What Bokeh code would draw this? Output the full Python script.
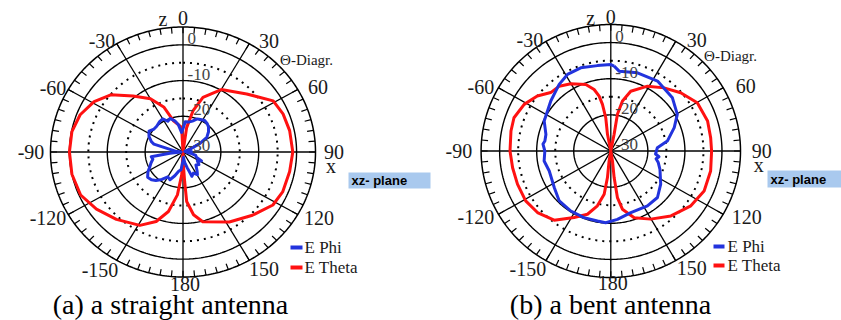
import numpy as np
from bokeh.plotting import figure
from bokeh.models import Range1d
from bokeh.core.properties import value
from bokeh.embed import file_html
from bokeh.resources import INLINE

# ---------------- data ----------------
angle_labels = ["0", "30", "60", "90", "120", "150", "180", "-150", "-120", "-90", "-60", "-30"]
db_labels = ["0", "-10", "-20", "-30"]
db_label_values = [0, -10, -20, -30]
solid_rings_db = [0, -10, -20]
dotted_rings_db = [-5, -15]
db_min, db_max = -30, 5
captions = ["(a) a straight antenna", "(b) a bent antenna"]
series_names = ["E Phi", "E Theta"]

# (a) straight antenna, E Theta (curve order, angle deg clockwise from z, dB)
a_theta_ang = [0, 8, 13, 19, 30, 46, 59, 68, 78, 90, 101, 113, 122, 134, 148, 165, 171, 176, 177, 179, 180,
               -177, -173, -167, -160, -151, -137, -125, -114, -102, -90, -79, -69, -59, -50, -40, -30, -22, -16, -3, 0]
a_theta_db = [-30, -23.1, -18.1, -13.8, -9.8, -6.6, -2.2, -1.5, -1.2, -1.0, -1.3, -1.4, -2.0, -4.5, -6.9, -9.8, -12.2, -16.1, -21.8, -27, -30,
              -23.7, -17.9, -12.9, -9.3, -6.5, -4.2, -2.1, -0.4, 0.0, 0.0, -0.1, -0.9, -2.6, -5.1, -9.5, -12.8, -16.4, -20.9, -23.1, -30]

# (a) straight antenna, E Phi
a_phi_ang = [-180, -174, -168, -162, -156, -150, -144, -138, -133, -127, -121, -116, -110, -104, -99, -96, -90, -84, -78, -74,
             -71, -64, -57, -50, -44, -36, -30, -25, -20, -14, -9, -4, 0, 4, 10, 16, 22, 27, 33, 39, 44, 50, 57, 62, 66,
             72, 80, 87, 93, 100, 106, 112, 117, 123, 130, 137, 145, 149, 155, 161, 166, 171, 176, 180]
a_phi_db = [-27.5, -25, -24.5, -23, -21.5, -22, -20.5, -19.3, -18.6, -18.3, -19.2, -20.2, -21, -21.8, -21.5, -26.5, -29.5, -28, -26.5, -22,
            -21.2, -20, -19.3, -20, -20, -19.5, -19.3, -20.5, -20, -21, -22.3, -24.5, -23.5, -21.5, -21.5, -21, -20, -19.8, -19.5, -19.8, -20.3, -21.2, -22.5, -25, -27.6,
            -29.5, -28.5, -27.8, -29, -28, -26.5, -26.2, -24.5, -25.5, -24.5, -25, -23.5, -22.6, -23.5, -22.8, -25.5, -27, -28.5, -27.5]

# (b) bent antenna, E Theta
b_theta_ang = [0, 11, 10, 12.8, 18, 28.9, 39.4, 49.5, 60.2, 72.4, 82.2, 90, 101.6, 113.7, 125.1, 137.9, 150.3, 161.1, 169, 172.1, 173, 170.6, 180,
               -170.6, -173, -171.5, -166.6, -160.2, -151.7, -141.4, -130.7, -121, -110, -99.9, -90, -78.4, -70.6, -61.1, -52.5, -45.1,
               -37.8, -30.1, -20.1, -14.8, -11.7, -9.9, -8.4, -11, 0]
b_theta_db = [-30, -25.3, -19.7, -15.8, -12.6, -9.5, -7.4, -5.2, -3.1, -2.6, -2.8, -2.8, -2.5, -2.5, -3.6, -5.8, -8.3, -10.5, -13.6, -17, -22.6, -27.2, -30,
              -27.2, -22.6, -17.9, -14.4, -11.4, -9.1, -5.5, -3.9, -3.2, -3.2, -3.1, -2.8, -2.5, -2.3, -3.3, -5.0, -7.1,
              -7.3, -8.5, -10.4, -12.4, -14.5, -16.9, -20.7, -25.3, -30]

# (b) bent antenna, E Phi
b_phi_ang = [2.2, 5.8, 18.4, 33.1, 48.5, 60.6, 69.3, 79.8, 85.9, 92, 94, 97, 100, 104, 110.9, 124.3, 135.6, 146.9, 162.4, 174.6,
             -176, -169.5, -158.6, -147, -134.8, -123.5, -108.4, -98.7, -90, -84, -81.2, -75.3, -65.2, -49.5, -37.1, -28.9,
             -19.4, -8.7, 0, 2.2]
b_phi_db = [-6.5, -7.8, -7.2, -6.9, -7.8, -9.4, -11.7, -14.5, -17.4, -17.8, -17.9, -16.9, -17.6, -16.8, -15.8, -13.7, -12, -11.9, -12.1, -11,
            -10.1, -10.3, -10.2, -10.2, -10.4, -11.7, -12.5, -11.8, -12.2, -11.6, -12, -11.9, -10.2, -8.7, -6.9, -5.8,
            -5.6, -6.1, -6.1, -6.5]

# ---------------- layout / styles ----------------
BLUE = "#2233dd"
RED = "#ff1111"
SERIF = value("Liberation Serif")
SANS = value("Liberation Sans")

panels = [
    dict(cx=182.5, cy=151.5, rh=132.5, rv=125.0,
         theta=(a_theta_ang, a_theta_db), phi=(a_phi_ang, a_phi_db),
         diag=(306, 59), leg=(290, 302, 247, 267, 304), box=(348, 430, 172, 188), cap=(170, 304)),
    dict(cx=610.3, cy=150.5, rh=129.7, rv=126.5,
         theta=(b_theta_ang, b_theta_db), phi=(b_phi_ang, b_phi_db),
         diag=(730, 55), leg=(713, 724, 246, 265, 727), box=(767, 845, 170, 187), cap=(610, 304)),
]

label_off = {"0": (0, -134), "30": (86, -111), "60": (135, -65), "90": (151, 0), "120": (136, 66),
             "150": (81, 117), "180": (2, 132), "-150": (-83, 118), "-120": (-135, 66), "-90": (-152, 0),
             "-60": (-130, -64), "-30": (-81, -111)}

p = figure(width=841, height=320, x_range=Range1d(0, 841), y_range=Range1d(320, 0),
           output_backend="svg", toolbar_location=None, min_border=0,
           x_axis_type=None, y_axis_type=None)
p.outline_line_color = None
p.background_fill_color = "white"
p.border_fill_color = "white"


def rnorm(db):
    return np.clip((np.asarray(db, dtype=float) - db_min) / (db_max - db_min), 0, None)


def to_xy(P, ang, r):
    t = np.radians(np.asarray(ang, dtype=float))
    return P["cx"] + P["rh"] * r * np.sin(t), P["cy"] - P["rv"] * r * np.cos(t)


full = np.linspace(0, 360, 361)
for i, P in enumerate(panels):
    # outer ring
    x, y = to_xy(P, full, 1.0)
    p.line(x, y, line_color="black", line_width=1.5)
    for d in solid_rings_db:
        x, y = to_xy(P, full, rnorm(d))
        p.line(x, y, line_color="black", line_width=1.4)
    for d in dotted_rings_db:
        x, y = to_xy(P, full, rnorm(d))
        p.line(x, y, line_color="black", line_width=2, line_dash="2 5")
    # spokes
    sp = np.arange(0, 180, 30)
    x0, y0 = to_xy(P, sp, 1.0)
    x1, y1 = to_xy(P, sp + 180, 1.0)
    p.segment(x0, y0, x1, y1, line_color="black", line_width=1.3)
    # ticks every 5 deg
    tk = np.arange(0, 360, 5)
    tx0, ty0 = to_xy(P, tk, 1.0)
    tx1, ty1 = to_xy(P, tk, 1.0 - 6.5 / P["rh"])
    p.segment(tx0, ty0, tx1, ty1, line_color="black", line_width=1.2)

    # curves
    x, y = to_xy(P, P["theta"][0], rnorm(P["theta"][1]))
    p.line(x, y, line_color=RED, line_width=3, line_join="round")
    x, y = to_xy(P, P["phi"][0], rnorm(P["phi"][1]))
    p.line(x, y, line_color=BLUE, line_width=3, line_join="round")

    # angle labels
    lx = [P["cx"] + label_off[s][0] for s in angle_labels]
    ly = [P["cy"] + label_off[s][1] for s in angle_labels]
    p.text(lx + [P["cx"] - 20, P["cx"] + 148], ly + [P["cy"] - 133, P["cy"] + 14],
           text=angle_labels + ["z", "x"], text_font=SERIF, text_font_size="20px",
           text_align="center", text_baseline="middle", text_color="#1a1a1a")
    # dB labels
    dx = [P["cx"] + 4.5] * len(db_labels)
    dy = [P["cy"] - P["rv"] * rnorm(v) - 1 for v in db_label_values]
    p.text(dx, dy, text=db_labels, text_font=SERIF, text_font_size="17px",
           text_align="left", text_baseline="bottom", text_color="#444444")
    p.text([P["diag"][0]], [P["diag"][1]], text=["\u0398-Diagr."], text_font=SERIF,
           text_font_size="15px", text_align="center", text_baseline="middle", text_color="#1a1a1a")

    # legend
    L = P["leg"]
    p.segment([L[0], L[0]], [L[2], L[3]], [L[1], L[1]], [L[2], L[3]],
              line_color=[BLUE, RED], line_width=4)
    p.text([L[4], L[4]], [L[2], L[3]], text=series_names, text_font=SERIF, text_font_size="17px",
           text_align="left", text_baseline="middle", text_color="#1a1a1a")

    # xz-plane box
    B = P["box"]
    p.quad(left=[B[0]], right=[B[1]], top=[B[2]], bottom=[B[3]], fill_color="#a9c9ee", line_color=None)
    p.text([B[0] + 3], [(B[2] + B[3]) / 2], text=["xz- plane"], text_font=SANS, text_font_size="13px",
           text_font_style="bold", text_align="left", text_baseline="middle", text_color="black")

    # caption
    p.text([P["cap"][0]], [P["cap"][1]], text=[captions[i]], text_font=SERIF, text_font_size="28px",
           text_align="center", text_baseline="middle", text_color="black")

open("out.html", "w").write(file_html(p, INLINE))
